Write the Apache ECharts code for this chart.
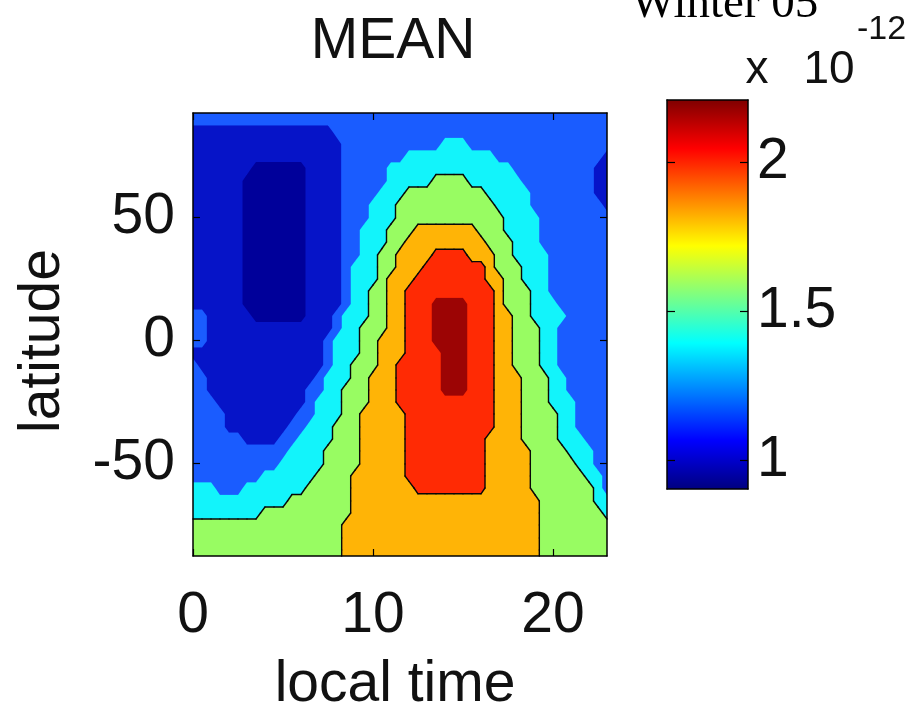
<!DOCTYPE html>
<html><head><meta charset="utf-8">
<script src="https://cdn.jsdelivr.net/npm/echarts@6/dist/echarts.min.js"></script>
<style>html,body{margin:0;padding:0;background:#fff}#chart{width:918px;height:712px}</style>
</head><body><div id="chart"></div>
<script>
// local time (hours) of each column of the MEAN grid
const localTime = [0,0.5,1,1.5,2,2.5,3,3.5,4,4.5,5,5.5,6,6.5,7,7.5,8,8.5,9,9.5,10,10.5,11,11.5,12,12.5,13,13.5,14,14.5,15,15.5,16,16.5,17,17.5,18,18.5,19,19.5,20,20.5,21,21.5,22,22.5,23];
// latitude (deg) of each row, top to bottom
const latitude = [90,85,80,75,70,65,60,55,50,45,40,35,30,25,20,15,10,5,0,-5,-10,-15,-20,-25,-30,-35,-40,-45,-50,-55,-60,-65,-70,-75,-80,-85];
// MEAN values (x 1e-12), one row per latitude, one column per local time
const meanValues = [
/* 90 */ [1.2,1.2,1.2,1.2,1.2, 1.2,1.2,1.2,1.2,1.2, 1.2,1.2,1.2,1.2,1.2, 1.2,1.2,1.2,1.2,1.2, 1.2,1.2,1.2,1.2,1.2, 1.2,1.2,1.2,1.2,1.2, 1.2,1.2,1.2,1.2,1.2, 1.2,1.2,1.2,1.2,1.2, 1.2,1.2,1.2,1.2,1.2, 1.2,1.2],
/* 85 */ [1.07,1.07,1.07,1.07,1.07, 1.07,1.07,1.07,1.07,1.07, 1.07,1.07,1.07,1.07,1.07, 1.07, 1.2,1.2,1.2,1.2,1.2, 1.2,1.2,1.2,1.2,1.2, 1.2,1.2,1.2,1.2,1.2, 1.2,1.2,1.2,1.2,1.2, 1.2,1.2,1.2,1.2,1.2, 1.2,1.2,1.2,1.2,1.2, 1.2],
/* 80 */ [1.07,1.07,1.07,1.07,1.07, 1.07,1.07,1.07,1.07,1.07, 1.07,1.07,1.07,1.07,1.07, 1.07,1.07, 1.2,1.2,1.2,1.2,1.2, 1.2,1.2,1.2,1.2,1.2, 1.2, 1.37,1.37,1.37, 1.2,1.2,1.2,1.2,1.2, 1.2,1.2,1.2,1.2,1.2, 1.2,1.2,1.2,1.2,1.2, 1.2],
/* 75 */ [1.07,1.07,1.07,1.07,1.07, 1.07,1.07,1.07,1.07,1.07, 1.07,1.07,1.07,1.07,1.07, 1.07,1.07, 1.2,1.2,1.2,1.2,1.2, 1.2,1.2, 1.37,1.37,1.37,1.37,1.37, 1.37,1.37,1.37,1.37,1.37, 1.2,1.2,1.2,1.2,1.2, 1.2,1.2,1.2,1.2,1.2, 1.2,1.2, 1.07],
/* 70 */ [1.07,1.07,1.07,1.07,1.07, 1.07,1.07, 0.97,0.97,0.97,0.97,0.97, 0.97, 1.07,1.07,1.07,1.07, 1.2,1.2,1.2,1.2,1.2, 1.37,1.37,1.37,1.37,1.37, 1.37,1.37,1.37,1.37,1.37, 1.37,1.37,1.37,1.37, 1.2,1.2,1.2,1.2,1.2, 1.2,1.2,1.2,1.2, 1.07,1.07],
/* 65 */ [1.07,1.07,1.07,1.07,1.07, 1.07, 0.97,0.97,0.97,0.97,0.97, 0.97,0.97, 1.07,1.07,1.07,1.07, 1.2,1.2,1.2,1.2,1.2, 1.37,1.37,1.37,1.37,1.37, 1.55,1.55,1.55,1.55, 1.37,1.37,1.37,1.37,1.37, 1.37, 1.2,1.2,1.2,1.2,1.2, 1.2,1.2,1.2, 1.07,1.07],
/* 60 */ [1.07,1.07,1.07,1.07,1.07, 1.07, 0.97,0.97,0.97,0.97,0.97, 0.97,0.97, 1.07,1.07,1.07,1.07, 1.2,1.2,1.2,1.2, 1.37,1.37,1.37, 1.55,1.55,1.55,1.55,1.55, 1.55,1.55,1.55,1.55, 1.37,1.37,1.37,1.37,1.37, 1.2,1.2,1.2,1.2,1.2, 1.2,1.2, 1.07,1.07],
/* 55 */ [1.07,1.07,1.07,1.07,1.07, 1.07, 0.97,0.97,0.97,0.97,0.97, 0.97,0.97, 1.07,1.07,1.07,1.07, 1.2,1.2,1.2, 1.37,1.37,1.37, 1.55,1.55,1.55,1.55,1.55, 1.55,1.55,1.55,1.55,1.55, 1.55, 1.37,1.37,1.37,1.37, 1.2,1.2,1.2,1.2,1.2, 1.2,1.2,1.2, 1.07],
/* 50 */ [1.07,1.07,1.07,1.07,1.07, 1.07, 0.97,0.97,0.97,0.97,0.97, 0.97,0.97, 1.07,1.07,1.07,1.07, 1.2,1.2,1.2, 1.37,1.37,1.37, 1.55,1.55,1.55,1.55,1.55, 1.55,1.55,1.55,1.55,1.55, 1.55,1.55, 1.37,1.37,1.37,1.37, 1.2,1.2,1.2,1.2,1.2, 1.2,1.2,1.2],
/* 45 */ [1.07,1.07,1.07,1.07,1.07, 1.07, 0.97,0.97,0.97,0.97,0.97, 0.97,0.97, 1.07,1.07,1.07,1.07, 1.2,1.2, 1.37,1.37,1.37, 1.55,1.55,1.55, 1.8,1.8,1.8,1.8,1.8, 1.8,1.8, 1.55,1.55,1.55, 1.37,1.37,1.37,1.37, 1.2,1.2,1.2,1.2,1.2, 1.2,1.2,1.2],
/* 40 */ [1.07,1.07,1.07,1.07,1.07, 1.07, 0.97,0.97,0.97,0.97,0.97, 0.97,0.97, 1.07,1.07,1.07,1.07, 1.2,1.2, 1.37,1.37,1.37, 1.55,1.55, 1.8,1.8,1.8,1.8,1.8, 1.8,1.8,1.8,1.8, 1.55,1.55,1.55, 1.37,1.37,1.37, 1.2,1.2,1.2,1.2,1.2, 1.2,1.2,1.2],
/* 35 */ [1.07,1.07,1.07,1.07,1.07, 1.07, 0.97,0.97,0.97,0.97,0.97, 0.97,0.97, 1.07,1.07,1.07,1.07, 1.2,1.2, 1.37,1.37, 1.55,1.55, 1.8,1.8,1.8,1.8, 1.98,1.98,1.98,1.98, 1.8,1.8,1.8, 1.55,1.55, 1.37,1.37,1.37,1.37, 1.2,1.2,1.2,1.2,1.2, 1.2,1.2],
/* 30 */ [1.07,1.07,1.07,1.07,1.07, 1.07, 0.97,0.97,0.97,0.97,0.97, 0.97,0.97, 1.07,1.07,1.07,1.07, 1.2, 1.37,1.37,1.37, 1.55,1.55, 1.8,1.8,1.8, 1.98,1.98,1.98,1.98,1.98, 1.98,1.98, 1.8, 1.55,1.55,1.55, 1.37,1.37,1.37, 1.2,1.2,1.2,1.2,1.2, 1.2,1.2],
/* 25 */ [1.07,1.07,1.07,1.07,1.07, 1.07, 0.97,0.97,0.97,0.97,0.97, 0.97,0.97, 1.07,1.07,1.07,1.07, 1.2, 1.37,1.37,1.37, 1.55, 1.8,1.8,1.8, 1.98,1.98,1.98,1.98,1.98, 1.98,1.98,1.98, 1.8,1.8, 1.55,1.55, 1.37,1.37,1.37, 1.2,1.2,1.2,1.2,1.2, 1.2,1.2],
/* 20 */ [1.07,1.07,1.07,1.07,1.07, 1.07, 0.97,0.97,0.97,0.97,0.97, 0.97,0.97, 1.07,1.07,1.07,1.07, 1.2, 1.37,1.37, 1.55,1.55, 1.8,1.8, 1.98,1.98,1.98,1.98,1.98, 1.98,1.98,1.98,1.98,1.98, 1.8, 1.55,1.55,1.55, 1.37,1.37, 1.2,1.2,1.2,1.2,1.2, 1.2,1.2],
/* 15 */ [1.07,1.07,1.07,1.07,1.07, 1.07, 0.97,0.97,0.97,0.97,0.97, 0.97,0.97, 1.07,1.07,1.07,1.07, 1.2, 1.37,1.37, 1.55,1.55, 1.8,1.8, 1.98,1.98,1.98, 2.15,2.15,2.15,2.15, 1.98,1.98,1.98, 1.8, 1.55,1.55,1.55, 1.37,1.37,1.37, 1.2,1.2,1.2,1.2,1.2, 1.2],
/* 10 */ [1.2,1.2, 1.07,1.07,1.07,1.07,1.07, 0.97,0.97,0.97,0.97,0.97, 0.97, 1.07,1.07,1.07, 1.2, 1.37,1.37,1.37, 1.55,1.55, 1.8,1.8, 1.98,1.98,1.98, 2.15,2.15,2.15,2.15, 1.98,1.98,1.98, 1.8,1.8, 1.55,1.55, 1.37,1.37,1.37,1.37, 1.2,1.2,1.2,1.2,1.2],
/* 5 */  [1.2,1.2, 1.07,1.07,1.07,1.07,1.07, 1.07,1.07,1.07,1.07,1.07, 1.07,1.07,1.07,1.07, 1.2, 1.37,1.37, 1.55,1.55,1.55, 1.8,1.8, 1.98,1.98,1.98, 2.15,2.15,2.15,2.15, 1.98,1.98,1.98, 1.8,1.8, 1.55,1.55,1.55, 1.37,1.37, 1.2,1.2,1.2,1.2,1.2, 1.2],
/* 0 */  [1.2,1.2, 1.07,1.07,1.07,1.07,1.07, 1.07,1.07,1.07,1.07,1.07, 1.07,1.07,1.07, 1.2, 1.37,1.37,1.37, 1.55,1.55, 1.8,1.8,1.8, 1.98,1.98,1.98, 2.15,2.15,2.15,2.15, 1.98,1.98,1.98, 1.8,1.8, 1.55,1.55,1.55, 1.37,1.37, 1.2,1.2,1.2,1.2,1.2, 1.2],
/* -5 */ [1.07,1.07,1.07,1.07,1.07, 1.07,1.07,1.07,1.07,1.07, 1.07,1.07,1.07,1.07,1.07, 1.2, 1.37,1.37,1.37, 1.55,1.55, 1.8,1.8,1.8, 1.98,1.98,1.98,1.98, 2.15,2.15,2.15, 1.98,1.98,1.98, 1.8,1.8, 1.55,1.55,1.55, 1.37,1.37, 1.2,1.2,1.2,1.2,1.2, 1.2],
/* -10 */ [1.2, 1.07,1.07,1.07,1.07,1.07, 1.07,1.07,1.07,1.07,1.07, 1.07,1.07,1.07,1.07, 1.2, 1.37,1.37, 1.55,1.55,1.55, 1.8,1.8, 1.98,1.98,1.98,1.98,1.98, 2.15,2.15,2.15, 1.98,1.98,1.98, 1.8,1.8, 1.55,1.55,1.55, 1.37,1.37, 1.2,1.2,1.2,1.2,1.2, 1.2],
/* -15 */ [1.2,1.2, 1.07,1.07,1.07,1.07,1.07, 1.07,1.07,1.07,1.07,1.07, 1.07,1.07, 1.2, 1.37,1.37,1.37, 1.55,1.55, 1.8,1.8,1.8, 1.98,1.98,1.98,1.98,1.98, 2.15,2.15,2.15, 1.98,1.98,1.98, 1.8,1.8,1.8, 1.55,1.55,1.55, 1.37,1.37, 1.2,1.2,1.2,1.2,1.2],
/* -20 */ [1.2,1.2, 1.07,1.07,1.07,1.07,1.07, 1.07,1.07,1.07,1.07,1.07, 1.07, 1.2,1.2, 1.37,1.37, 1.55,1.55,1.55, 1.8,1.8,1.8, 1.98,1.98,1.98,1.98,1.98, 2.15,2.15,2.15, 1.98,1.98,1.98, 1.8,1.8,1.8, 1.55,1.55,1.55, 1.37,1.37, 1.2,1.2,1.2,1.2,1.2],
/* -25 */ [1.2,1.2,1.2, 1.07,1.07,1.07,1.07,1.07, 1.07,1.07,1.07,1.07,1.07, 1.2, 1.37,1.37,1.37, 1.55,1.55,1.55, 1.8,1.8,1.8, 1.98,1.98,1.98,1.98,1.98, 1.98,1.98,1.98,1.98,1.98, 1.98, 1.8,1.8,1.8, 1.55,1.55,1.55, 1.37,1.37,1.37, 1.2,1.2,1.2,1.2],
/* -30 */ [1.2,1.2,1.2,1.2, 1.07,1.07,1.07,1.07,1.07, 1.07,1.07,1.07, 1.2,1.2, 1.37,1.37,1.37, 1.55,1.55, 1.8,1.8,1.8,1.8,1.8, 1.98,1.98,1.98,1.98,1.98, 1.98,1.98,1.98,1.98,1.98, 1.8,1.8,1.8, 1.55,1.55,1.55,1.55, 1.37,1.37, 1.2,1.2,1.2,1.2],
/* -35 */ [1.2,1.2,1.2,1.2, 1.07,1.07,1.07,1.07,1.07, 1.07,1.07, 1.2,1.2, 1.37,1.37,1.37, 1.55,1.55,1.55, 1.8,1.8,1.8,1.8,1.8, 1.98,1.98,1.98,1.98,1.98, 1.98,1.98,1.98,1.98,1.98, 1.8,1.8,1.8, 1.55,1.55,1.55,1.55, 1.37,1.37, 1.2,1.2,1.2,1.2],
/* -40 */ [1.2,1.2,1.2,1.2,1.2, 1.2, 1.07,1.07,1.07,1.07, 1.2,1.2, 1.37,1.37,1.37,1.37, 1.55,1.55,1.55, 1.8,1.8,1.8,1.8,1.8, 1.98,1.98,1.98,1.98,1.98, 1.98,1.98,1.98,1.98, 1.8,1.8,1.8,1.8, 1.55,1.55,1.55,1.55, 1.37,1.37,1.37, 1.2,1.2,1.2],
/* -45 */ [1.2,1.2,1.2,1.2,1.2, 1.2,1.2,1.2,1.2,1.2, 1.2, 1.37,1.37,1.37,1.37, 1.55,1.55,1.55,1.55, 1.8,1.8,1.8,1.8,1.8, 1.98,1.98,1.98,1.98,1.98, 1.98,1.98,1.98,1.98, 1.8,1.8,1.8,1.8,1.8, 1.55,1.55,1.55,1.55, 1.37,1.37,1.37, 1.2,1.2],
/* -50 */ [1.2,1.2,1.2,1.2,1.2, 1.2,1.2,1.2,1.2,1.2, 1.37,1.37,1.37,1.37,1.37, 1.55,1.55,1.55,1.55, 1.8,1.8,1.8,1.8,1.8, 1.98,1.98,1.98,1.98,1.98, 1.98,1.98,1.98,1.98, 1.8,1.8,1.8,1.8,1.8, 1.55,1.55,1.55,1.55,1.55, 1.37,1.37, 1.2,1.2],
/* -55 */ [1.2,1.2,1.2,1.2,1.2, 1.2,1.2,1.2, 1.37,1.37,1.37,1.37,1.37, 1.37, 1.55,1.55,1.55,1.55, 1.8,1.8,1.8,1.8,1.8, 1.8, 1.98,1.98,1.98,1.98,1.98, 1.98,1.98,1.98,1.98, 1.8,1.8,1.8,1.8,1.8, 1.55,1.55,1.55,1.55,1.55, 1.55, 1.37,1.37, 1.2],
/* -60 */ [1.37,1.37,1.37, 1.2,1.2,1.2, 1.37,1.37,1.37,1.37,1.37, 1.37,1.37, 1.55,1.55,1.55,1.55,1.55, 1.8,1.8,1.8,1.8,1.8, 1.8,1.8, 1.98,1.98,1.98,1.98,1.98, 1.98,1.98,1.98, 1.8,1.8,1.8,1.8,1.8, 1.55,1.55,1.55,1.55,1.55, 1.55,1.55, 1.37, 1.2],
/* -65 */ [1.37,1.37,1.37,1.37,1.37, 1.37,1.37,1.37,1.37,1.37, 1.37, 1.55,1.55,1.55,1.55,1.55, 1.55,1.55, 1.8,1.8,1.8,1.8,1.8, 1.8,1.8,1.8,1.8,1.8, 1.8,1.8,1.8,1.8,1.8, 1.8,1.8,1.8,1.8,1.8, 1.8, 1.55,1.55,1.55,1.55,1.55, 1.55, 1.37,1.37],
/* -70 */ [1.37,1.37,1.37,1.37,1.37, 1.37,1.37,1.37, 1.55,1.55,1.55,1.55,1.55, 1.55,1.55,1.55,1.55,1.55, 1.8,1.8,1.8,1.8,1.8, 1.8,1.8,1.8,1.8,1.8, 1.8,1.8,1.8,1.8,1.8, 1.8,1.8,1.8,1.8,1.8, 1.8, 1.55,1.55,1.55,1.55,1.55, 1.55,1.55, 1.37],
/* -75 */ [1.55,1.55,1.55,1.55,1.55, 1.55,1.55,1.55,1.55,1.55, 1.55,1.55,1.55,1.55,1.55, 1.55,1.55, 1.8,1.8,1.8,1.8,1.8, 1.8,1.8,1.8,1.8,1.8, 1.8,1.8,1.8,1.8,1.8, 1.8,1.8,1.8,1.8,1.8, 1.8,1.8, 1.55,1.55,1.55,1.55,1.55, 1.55,1.55,1.55],
/* -80 */ [1.55,1.55,1.55,1.55,1.55, 1.55,1.55,1.55,1.55,1.55, 1.55,1.55,1.55,1.55,1.55, 1.55,1.55, 1.8,1.8,1.8,1.8,1.8, 1.8,1.8,1.8,1.8,1.8, 1.8,1.8,1.8,1.8,1.8, 1.8,1.8,1.8,1.8,1.8, 1.8,1.8, 1.55,1.55,1.55,1.55,1.55, 1.55,1.55,1.55],
/* -85 */ [1.55,1.55,1.55,1.55,1.55, 1.55,1.55,1.55,1.55,1.55, 1.55,1.55,1.55,1.55,1.55, 1.55,1.55, 1.8,1.8,1.8,1.8,1.8, 1.8,1.8,1.8,1.8,1.8, 1.8,1.8,1.8,1.8,1.8, 1.8,1.8,1.8,1.8,1.8, 1.8,1.8, 1.55,1.55,1.55,1.55,1.55, 1.55,1.55,1.55]
];
// contour levels (x 1e-12)
const contourLevels = [0.90, 1.02, 1.13, 1.29, 1.46, 1.68, 1.90, 2.07, 2.21];
// tick labels
const xTicks = [0, 10, 20];
const yTicks = [-50, 0, 50];
const colorbarTicks = [1, 1.5, 2];
const colorbarRange = [0.903, 2.208];

// ---- styles ----
const bandColors = ['#00009a', '#0614c8', '#1a5cff', '#12f4fb', '#98fc62', '#ffb406', '#ff2a04', '#9c0404'];
const linedLevels = [4, 5, 6];   // contour levels drawn with a black line
const jetStops = [
  {offset: 0, color: '#800000'}, {offset: 0.125, color: '#ff0000'},
  {offset: 0.375, color: '#ffff00'}, {offset: 0.625, color: '#00ffff'},
  {offset: 0.875, color: '#0000ff'}, {offset: 1, color: '#000080'}
];
const SANS = '"Liberation Sans", Arial, sans-serif';
const SERIF = '"Liberation Serif", "Times New Roman", serif';
const xRange = [0, 23], yRange = [-87.5, 92.5];

const nRows = latitude.length, nCols = localTime.length;
// row positions used for drawing: plot top, each latitude row, plot bottom
const rowPos = [yRange[1]].concat(latitude, [yRange[0]]);
function rowAt(p) { return meanValues[Math.min(Math.max(p - 1, 0), nRows - 1)]; }

const cells = [];
for (let r = 0; r < nRows; r++) for (let c = 0; c < nCols; c++) cells.push([localTime[c], latitude[r], meanValues[r][c], r, c]);

function bandOf(v) {
  for (let i = 0; i < contourLevels.length - 1; i++) if (v < contourLevels[i + 1]) return i;
  return contourLevels.length - 2;
}
function px(api, x, y) { const p = api.coord([x, y]); return [Math.round(p[0]), Math.round(p[1])]; }
// one square of the contour mesh: between mesh rows q, q+1 and columns c, c+1
function square(api, q, c) {
  const top = rowAt(q), bot = rowAt(q + 1);
  const x0 = localTime[c], x1 = localTime[c + 1], y0 = rowPos[q], y1 = rowPos[q + 1];
  return {
    pts: [px(api, x0, y0), px(api, x1, y0), px(api, x1, y1), px(api, x0, y1)],
    vals: [top[c], top[c + 1], bot[c + 1], bot[c]]
  };
}
// part of the square where value >= t (marching squares), plus the contour segments
function clip(sq, t) {
  const out = [];
  for (let i = 0; i < 4; i++) {
    const j = (i + 1) % 4;
    const a = sq.vals[i] >= t, b = sq.vals[j] >= t;
    if (a) out.push({p: sq.pts[i]});
    if (a !== b) {
      const f = (t - sq.vals[i]) / (sq.vals[j] - sq.vals[i]);
      const pi = sq.pts[i], pj = sq.pts[j];
      out.push({p: [pi[0] + f * (pj[0] - pi[0]), pi[1] + f * (pj[1] - pi[1])], exit: a});
    }
  }
  const segs = [];
  for (let k = 0; k < out.length; k++) {
    const u = out[k], w = out[(k + 1) % out.length];
    if (u.exit === true && w.exit === false) segs.push([u.p, w.p]);
  }
  return {poly: out.map(o => o.p), segs: segs};
}
function meshRows(r) { return r === nRows - 1 ? [r, r + 1] : [r]; }

function fillSquare(api, q, c, kids) {
  const sq = square(api, q, c);
  const lo = bandOf(Math.min.apply(null, sq.vals)), hi = bandOf(Math.max.apply(null, sq.vals));
  kids.push({type: 'polygon', shape: {points: sq.pts}, style: {fill: bandColors[lo]}});
  for (let i = lo + 1; i <= hi; i++) {
    const cl = clip(sq, contourLevels[i]);
    if (cl.poly.length >= 3)
      kids.push({type: 'polygon', shape: {points: cl.poly}, style: {fill: bandColors[i]}});
  }
}
function lineSquare(api, q, c, kids) {
  const sq = square(api, q, c);
  linedLevels.forEach(function (i) {
    clip(sq, contourLevels[i]).segs.forEach(function (s) {
      kids.push({type: 'line', shape: {x1: s[0][0], y1: s[0][1], x2: s[1][0], y2: s[1][1]},
                 style: {stroke: '#080808', lineWidth: 1.4, lineCap: 'round'}});
    });
  });
}

function txt(text, x, y, size, opts) {
  opts = opts || {};
  return {type: 'text', x: x, y: y, rotation: opts.rotation || 0, z: 100,
    style: {text: text, fill: opts.fill || '#111', font: size + 'px ' + (opts.family || SANS),
      align: opts.align || 'center', verticalAlign: 'middle',
      textAlign: opts.align || 'center', textVerticalAlign: 'middle'}};
}

const axisLineStyle = {color: '#000', width: 1.5};
const tickStyle = {color: '#000', width: 1.2};
function frameAxis(extra) {
  return Object.assign({type: 'value', z: 10,
    axisLine: {show: true, onZero: false, lineStyle: axisLineStyle},
    axisTick: {show: false}, axisLabel: {show: false}, splitLine: {show: false}}, extra);
}
const labelStyle = {fontSize: 57, fontFamily: SANS, color: '#111'};

const option = {
  animation: false,
  backgroundColor: '#fff',
  grid: [
    {left: 193, top: 113, width: 414, height: 443, outerBoundsMode: 'none', containLabel: false},
    {left: 667, top: 100, width: 81, height: 389, outerBoundsMode: 'none', containLabel: false}
  ],
  xAxis: [
    frameAxis({gridIndex: 0, min: xRange[0], max: xRange[1], position: 'bottom',
      axisTick: {show: true, inside: true, length: 7, customValues: xTicks, lineStyle: tickStyle},
      axisLabel: Object.assign({show: true, customValues: xTicks, margin: 32}, labelStyle)}),
    frameAxis({gridIndex: 0, min: xRange[0], max: xRange[1], position: 'top',
      axisTick: {show: true, inside: true, length: 7, customValues: xTicks, lineStyle: tickStyle}}),
    frameAxis({gridIndex: 1, min: 0, max: 1, position: 'bottom'}),
    frameAxis({gridIndex: 1, min: 0, max: 1, position: 'top'})
  ],
  yAxis: [
    frameAxis({gridIndex: 0, min: yRange[0], max: yRange[1], position: 'left',
      axisTick: {show: true, inside: true, length: 7, customValues: yTicks, lineStyle: tickStyle},
      axisLabel: Object.assign({show: true, customValues: yTicks, margin: 18}, labelStyle)}),
    frameAxis({gridIndex: 0, min: yRange[0], max: yRange[1], position: 'right',
      axisTick: {show: true, inside: true, length: 7, customValues: yTicks, lineStyle: tickStyle}}),
    frameAxis({gridIndex: 1, min: colorbarRange[0], max: colorbarRange[1], position: 'right',
      axisTick: {show: true, inside: true, length: 8, customValues: colorbarTicks, lineStyle: tickStyle},
      axisLabel: Object.assign({show: true, customValues: colorbarTicks, margin: 9}, labelStyle)}),
    frameAxis({gridIndex: 1, min: colorbarRange[0], max: colorbarRange[1], position: 'left',
      axisTick: {show: true, inside: true, length: 8, customValues: colorbarTicks, lineStyle: tickStyle}})
  ],
  series: [
    {type: 'custom', name: 'MEAN', xAxisIndex: 0, yAxisIndex: 0, z: 2,
     dimensions: ['time', 'lat', 'value', 'row', 'col'], encode: {x: 0, y: 1},
     data: cells,
     renderItem: function (params, api) {
       const r = api.value(3), c = api.value(4);
       const kids = [];
       if (c < nCols - 1) meshRows(r).forEach(function (q) { fillSquare(api, q, c, kids); });
       return {type: 'group', children: kids};
     }},
    {type: 'custom', name: 'contour lines', xAxisIndex: 0, yAxisIndex: 0, z: 3,
     dimensions: ['time', 'lat', 'value', 'row', 'col'], encode: {x: 0, y: 1},
     data: cells,
     renderItem: function (params, api) {
       const r = api.value(3), c = api.value(4);
       const kids = [];
       if (c < nCols - 1) meshRows(r).forEach(function (q) { lineSquare(api, q, c, kids); });
       return {type: 'group', children: kids};
     }},
    {type: 'custom', name: 'colorbar', xAxisIndex: 2, yAxisIndex: 2, z: 2,
     data: [[0, colorbarRange[0], colorbarRange[1]]],
     encode: {x: 0, y: [1, 2]},
     renderItem: function (params, api) {
       const p0 = api.coord([0, api.value(2)]), p1 = api.coord([1, api.value(1)]);
       return {type: 'rect', shape: {x: p0[0], y: p0[1], width: p1[0] - p0[0], height: p1[1] - p0[1]},
               style: {fill: {type: 'linear', x: 0, y: 0, x2: 0, y2: 1, colorStops: jetStops}}};
     }}
  ],
  graphic: [
    txt('MEAN', 393, 42, 57),
    txt('latitude', 43, 341, 57, {rotation: Math.PI / 2}),
    txt('local time', 395, 685, 57),
    txt('Winter 05', 631, 5, 47, {family: SERIF, align: 'left', fill: '#000'}),
    txt('x', 757, 70, 46),
    txt('10', 829, 70, 46),
    txt('-12', 857, 30, 34, {align: 'left'})
  ]
};

const chart = echarts.init(document.getElementById('chart'), null, {renderer: 'canvas'});
chart.setOption(option);
</script>
</body></html>
